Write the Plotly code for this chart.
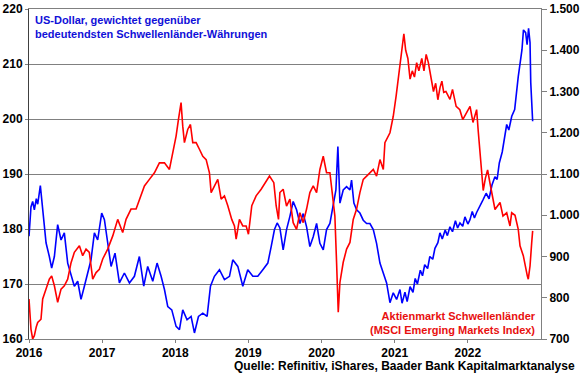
import plotly.graph_objects as go

# ---- data (decimal years) ----
usd_t = [0.000, 0.027, 0.050, 0.073, 0.100, 0.119, 0.155, 0.187, 0.233, 0.278, 0.310, 0.347,
         0.392, 0.438, 0.483, 0.529, 0.575, 0.620, 0.666, 0.711, 0.757, 0.803, 0.848, 0.894,
         0.939, 0.994, 1.031, 1.076, 1.122, 1.176, 1.236, 1.304, 1.373, 1.441, 1.509, 1.569,
         1.623, 1.692, 1.751, 1.806, 1.852, 1.897, 1.952, 2.011, 2.057, 2.102, 2.161, 2.216,
         2.262, 2.317, 2.376, 2.435, 2.481, 2.535, 2.604, 2.672, 2.741, 2.786, 2.855, 2.923,
         2.991, 3.060, 3.128, 3.197, 3.265, 3.311, 3.356, 3.393,
         3.430, 3.475, 3.521, 3.567, 3.612, 3.658, 3.704, 3.749, 3.795, 3.840, 3.886, 3.932,
         3.977, 4.023, 4.068, 4.114, 4.160, 4.196, 4.223, 4.251, 4.296, 4.342, 4.388, 4.410,
         4.442, 4.479, 4.524, 4.570, 4.616, 4.661, 4.707, 4.752, 4.798, 4.844, 4.889, 4.935,
         4.980, 5.026, 5.072, 5.100, 5.140, 5.170, 5.210, 5.250, 5.280, 5.310, 5.350, 5.380,
         5.410, 5.450, 5.480, 5.520, 5.550, 5.590, 5.618, 5.650, 5.690, 5.720, 5.755, 5.790,
         5.830, 5.860, 5.892, 5.930, 5.960, 6.000, 6.029, 6.060, 6.090, 6.120, 6.166,
         6.207, 6.250, 6.290, 6.330, 6.370, 6.400, 6.430, 6.470, 6.500, 6.531, 6.560, 6.600,
         6.640, 6.689, 6.740, 6.760, 6.790, 6.810, 6.830, 6.850, 6.860, 6.875, 6.886]
usd_v = [178.7, 184.0, 185.0, 183.5, 185.5, 184.5, 187.9, 183.5, 177.5, 175.0, 172.9, 175.0,
         180.8, 178.0, 179.3, 173.8, 171.4, 169.6, 170.5, 167.2, 169.6, 172.0, 174.4, 179.3,
         178.0, 182.9, 181.7, 177.5, 173.2, 175.6, 170.2, 172.0, 170.2, 171.4, 175.0, 169.6,
         173.2, 170.5, 173.8, 171.4, 169.0, 165.9, 165.3, 162.3, 161.7, 165.3, 163.5, 164.1,
         161.1, 164.1, 164.7, 164.1, 169.6, 171.4, 172.6, 170.8, 171.4, 174.4, 173.2, 169.6,
         172.6, 171.4, 171.4, 172.6, 173.8, 176.8, 179.9, 181.1,
         180.2, 176.2, 179.9, 182.3, 185.0, 183.5, 181.0, 182.8, 180.4, 176.8, 178.6, 181.0,
         177.4, 176.2, 179.9, 181.0, 184.7, 187.1, 195.0, 184.7, 187.1, 187.7, 187.1, 188.9,
         184.7, 183.5, 182.9, 181.6, 181.0, 181.0, 179.9, 177.4, 173.8, 172.0, 170.2, 166.6,
         168.4, 167.2, 169.0, 166.5, 168.5, 166.8, 169.5, 168.5, 171.0, 170.0, 172.5, 171.5,
         173.5, 172.8, 175.0, 174.5, 176.5, 177.5, 179.3, 178.2, 179.8, 178.8, 180.4, 179.5,
         181.5, 180.2, 181.1, 180.5, 182.2, 180.9, 181.7, 183.2, 182.0, 183.0, 184.1,
         185.3, 186.5, 185.5, 188.0, 189.5, 189.0, 192.0, 194.0, 196.5, 199.0, 198.0, 200.5,
         201.7, 207.7, 212.6, 216.2, 215.7, 213.5, 216.5, 213.9, 206.6, 201.0, 199.6]

msci_t = [0.000, 0.027, 0.050, 0.073, 0.100, 0.119, 0.164, 0.187, 0.233, 0.278, 0.310, 0.347,
          0.392, 0.438, 0.483, 0.529, 0.575, 0.620, 0.689, 0.734, 0.780, 0.825, 0.871, 0.917,
          0.962, 1.008, 1.076, 1.145, 1.213, 1.281, 1.327, 1.395, 1.464, 1.532, 1.578, 1.646,
          1.715, 1.783, 1.852, 1.920, 1.965, 2.011, 2.043, 2.079, 2.102, 2.125, 2.170, 2.207,
          2.239, 2.285, 2.330, 2.376, 2.422, 2.467, 2.490, 2.535, 2.581, 2.627, 2.672, 2.718,
          2.772, 2.809, 2.832, 2.877, 2.923, 2.969, 3.000, 3.046, 3.105, 3.174, 3.228, 3.288,
          3.347, 3.379, 3.411,
          3.430, 3.475, 3.521, 3.567, 3.612, 3.658, 3.704, 3.749, 3.795, 3.840, 3.886, 3.932,
          3.977, 4.023, 4.068, 4.114, 4.160, 4.182, 4.205, 4.228, 4.251, 4.296, 4.342, 4.388,
          4.433, 4.479, 4.524, 4.570, 4.616, 4.661, 4.707, 4.752, 4.798, 4.844, 4.866, 4.935,
          4.980, 5.020, 5.050, 5.080, 5.100, 5.125, 5.150, 5.180, 5.210, 5.240, 5.270, 5.300,
          5.330, 5.370, 5.400, 5.430, 5.460, 5.500, 5.530, 5.560, 5.590, 5.620, 5.645, 5.670,
          5.700, 5.755, 5.790, 5.840, 5.890, 5.930, 6.030, 6.070, 6.120, 6.140, 6.170, 6.190,
          6.210, 6.240, 6.270, 6.300, 6.343, 6.371, 6.440, 6.480, 6.531, 6.576, 6.599, 6.645,
          6.689, 6.713, 6.758, 6.781, 6.813, 6.826, 6.850, 6.873, 6.886]
msci_v = [797, 724, 700, 708, 730, 740, 748, 797, 821, 845, 853, 829,
          789, 821, 829, 845, 885, 910, 926, 902, 918, 910, 845, 861,
          869, 894, 918, 950, 990, 958, 990, 1015, 1015, 1047, 1071, 1087,
          1103, 1127, 1127, 1111, 1152, 1192, 1232, 1273, 1216, 1176, 1208, 1220,
          1176, 1176, 1160, 1143, 1135, 1103, 1055, 1071, 1087, 1039, 1047, 1023,
          990, 974, 942, 990, 974, 974, 954, 1023, 1047, 1063, 1079, 1095,
          1079, 1023, 990,
          1055, 1063, 1022, 1039, 982, 966, 1006, 982, 1015, 1055, 1071, 1055,
          1111, 1143, 1103, 1103, 1039, 998, 886, 765, 837, 886, 918, 934,
          990, 1015, 1055, 1087, 1095, 1103, 1111, 1095, 1135, 1111, 1176, 1200,
          1240, 1290, 1330, 1370, 1410, 1440, 1400, 1380, 1330, 1350, 1335, 1370,
          1350, 1380, 1350, 1390, 1370, 1330, 1300, 1320, 1280, 1310, 1325, 1298,
          1300, 1281, 1305, 1264, 1256, 1232, 1264, 1225, 1256, 1208, 1150, 1100,
          1060, 1090, 1110, 1080, 1039, 1014, 1031, 998, 1006, 974, 1006, 1000,
          966, 926, 902, 877, 853, 845, 877, 934, 962]

year_ticks = [2016, 2017, 2018, 2019, 2020, 2021, 2022]
year_labels = [str(y) for y in year_ticks]

FONT = "Liberation Sans, Arial, sans-serif"

fig = go.Figure()
fig.add_trace(go.Scatter(x=[2016 + t for t in usd_t], y=usd_v, mode="lines",
                         line=dict(color="#0000FF", width=1.6), yaxis="y"))
fig.add_trace(go.Scatter(x=[2016 + t for t in msci_t], y=msci_v, mode="lines",
                         line=dict(color="#FF0000", width=1.6), yaxis="y2"))

fig.update_layout(
    width=580, height=375,
    margin=dict(l=29, r=39, t=9, b=36, autoexpand=False),
    paper_bgcolor="white", plot_bgcolor="white",
    showlegend=False,
    separators=",.",
    font=dict(family=FONT, size=12, color="black"),
    xaxis=dict(range=[2016, 2023], tickvals=year_ticks, ticktext=year_labels,
               automargin=False,
               showgrid=False, zeroline=False, showline=True, linecolor="#808080",
               linewidth=1, mirror=True, ticks="outside", ticklen=3, tickcolor="#808080",
               tickfont=dict(family=FONT, size=12, color="black", weight="bold")),
    yaxis=dict(range=[160, 220], dtick=10, showgrid=True, gridcolor="#808080", gridwidth=1,
               automargin=False,
               zeroline=False, showline=True, linecolor="#404040", linewidth=1,
               ticks="outside", ticklen=3, tickcolor="#808080",
               tickfont=dict(family=FONT, size=12, color="black", weight="bold")),
    yaxis2=dict(range=[700, 1500], dtick=100, overlaying="y", side="right",
                automargin=False,
                showgrid=False, zeroline=False, showline=True, linecolor="#808080",
                linewidth=1, ticks="outside", ticklen=5, tickcolor="#808080",
                tickformat=",d",
                tickfont=dict(family=FONT, size=12, color="black", weight="bold")),
    annotations=[
        dict(xref="paper", yref="paper", x=0.007, y=0.992, xanchor="left", yanchor="top",
             align="left", showarrow=False,
             text="US-Dollar, gewichtet gegenüber<br>bedeutendsten Schwellenländer-Währungen",
             font=dict(family=FONT, size=11, color="#1010D8", weight="bold")),
        dict(xref="paper", yref="paper", x=0.994, y=0.004, xanchor="right", yanchor="bottom",
             align="right", showarrow=False,
             text="Aktienmarkt Schwellenländer<br>(MSCI Emerging Markets Index)",
             font=dict(family=FONT, size=11, color="#E81010", weight="bold")),
        dict(xref="paper", yref="paper", x=1.070, y=-0.081, xanchor="right", yanchor="middle",
             align="right", showarrow=False,
             text="Quelle: Refinitiv, iShares, Baader Bank Kapitalmarktanalyse",
             font=dict(family=FONT, size=12, color="black", weight="bold")),
    ],
)

fig.write_html("out.html", config={"displayModeBar": False},
               post_script="document.body.style.margin='0';document.body.style.overflow='hidden';")
